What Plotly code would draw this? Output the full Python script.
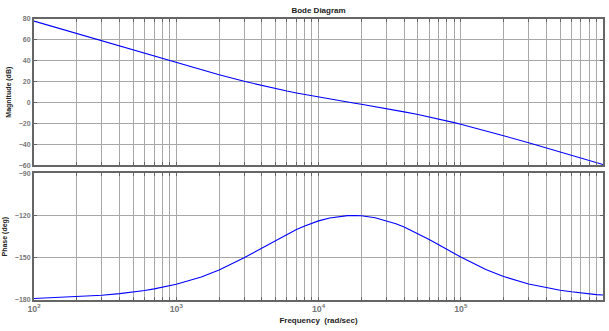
import plotly.graph_objects as go
from plotly.subplots import make_subplots

# Frequency points (rad/sec), denser around the phase peak
freq = [100, 200, 300, 400, 500, 600, 700, 800, 900,
        1e3, 1.5e3, 2e3, 3e3, 3.5e3, 4e3, 5e3, 6e3, 7e3, 8e3, 9e3,
        1e4, 1.2e4, 1.4e4, 1.5e4, 1.6e4, 1.8e4, 2e4, 2.5e4, 3e4, 3.5e4,
        4e4, 5e4, 6e4, 7e4, 8e4, 9e4,
        1e5, 1.5e5, 2e5, 3e5, 4e5, 5e5, 6e5, 7e5, 8e5, 9e5,
        1e6]

# Magnitude response (dB)
magnitude_db = [78.0, 66.0, 58.9, 53.9, 50.1, 46.9, 44.3, 42.0, 40.0,
                38.2, 31.4, 26.7, 20.4, 18.2, 16.3, 13.3, 11.1, 9.3, 7.8, 6.5,
                5.4, 3.5, 1.9, 1.2, 0.6, -0.6, -1.6, -3.8, -5.7, -7.3,
                -8.8, -11.4, -13.6, -15.6, -17.5, -19.1,
                -20.7, -26.9, -31.6, -38.4, -43.3, -47.2, -50.3, -53.0, -55.3, -57.3,
                -59.1]

# Phase response (deg)
phase_deg = [-178.9, -177.7, -176.6, -175.5, -174.4, -173.2, -172.1, -171.0, -169.9,
             -168.8, -163.6, -158.7, -150.0, -146.3, -143.1, -137.6, -133.3, -129.9, -127.4, -125.4,
             -123.8, -121.8, -120.6, -120.3, -120.1, -120.0, -120.2, -121.6, -123.6, -125.8,
             -128.2, -132.8, -137.1, -140.8, -144.1, -147.0,
             -149.5, -158.3, -163.3, -168.6, -171.4, -173.1, -174.2, -175.1, -175.7, -176.2,
             -176.5]

mag_ticks = [80, 60, 40, 20, 0, -20, -40, -60]
phase_ticks = [-90, -120, -150, -180]

FONT = "Liberation Sans, Arial, sans-serif"
FRAME = "#666666"
GRID = "#a8a8a8"
TICKFONT = dict(family=FONT, size=7, color="#777777", weight="bold")

fig = make_subplots(rows=2, cols=1, shared_xaxes=False, vertical_spacing=0.0)

fig.add_trace(go.Scatter(x=freq, y=magnitude_db, mode="lines",
                         line=dict(color="#0000ff", width=1.1),
                         showlegend=False, hoverinfo="skip"), row=1, col=1)
fig.add_trace(go.Scatter(x=freq, y=phase_deg, mode="lines",
                         line=dict(color="#0000ff", width=1.1),
                         showlegend=False, hoverinfo="skip"), row=2, col=1)

# Decade major ticks labelled as powers of ten, 2..9 minor ticks with grid
xcommon = dict(type="log", range=[2, 6], showline=True, linecolor=FRAME,
               linewidth=2, mirror="ticks", ticks="inside", ticklen=3,
               tickcolor=FRAME, showgrid=True, gridcolor=GRID, gridwidth=1,
               tickmode="linear", tick0=0, dtick=1, exponentformat="power",
               zeroline=False,
               minor=dict(dtick="D1", ticks="inside", ticklen=3,
                          tickcolor=FRAME, showgrid=True, gridcolor=GRID,
                          gridwidth=1))

fig.update_xaxes(**xcommon, showticklabels=False, domain=[0, 1], row=1, col=1)
fig.update_xaxes(**xcommon, showticklabels=True, tickfont=TICKFONT,
                 title=dict(text="Frequency  (rad/sec)", standoff=4,
                            font=dict(family=FONT, size=8, color="#222222",
                                      weight="bold")),
                 row=2, col=1)

ycommon = dict(showline=True, linecolor=FRAME, linewidth=2, mirror="ticks",
               ticks="inside", ticklen=3, tickcolor=FRAME, showgrid=True,
               gridcolor=GRID, gridwidth=1, zeroline=False, tickfont=TICKFONT)

fig.update_yaxes(**ycommon, range=[-60, 80], tickvals=mag_ticks,
                 domain=[0.479, 1.0],
                 title=dict(text="Magnitude (dB)", standoff=6,
                            font=dict(family=FONT, size=7, color="#222222",
                                      weight="bold")),
                 row=1, col=1)
fig.update_yaxes(**ycommon, range=[-180, -90], tickvals=phase_ticks,
                 domain=[0.0, 0.451],
                 title=dict(text="Phase (deg)", standoff=6,
                            font=dict(family=FONT, size=7, color="#222222",
                                      weight="bold")),
                 row=2, col=1)

fig.update_layout(
    width=609, height=331,
    margin=dict(l=32, r=4, t=19, b=31),
    paper_bgcolor="white", plot_bgcolor="white",
    title=dict(text="Bode Diagram", x=0.523, xanchor="center", y=0.968,
               yanchor="middle",
               font=dict(family=FONT, size=8, color="#222222", weight="bold")),
)

fig.write_html("out.html")
